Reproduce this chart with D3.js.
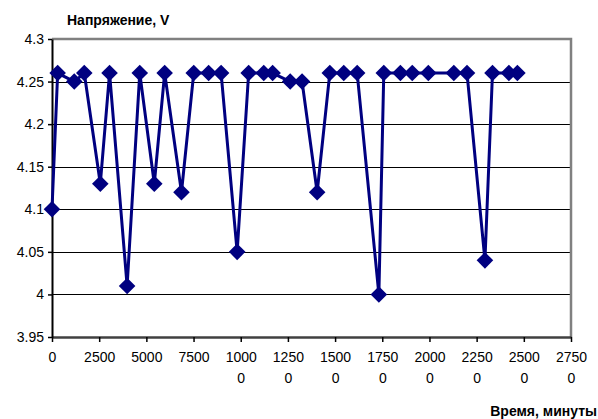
<!DOCTYPE html>
<html>
<head>
<meta charset="utf-8">
<script src="https://cdn.jsdelivr.net/npm/d3@7"></script>
<style>
  body { margin: 0; background: #fff; }
  svg { display: block; font-family: "Liberation Sans", Arial, sans-serif; }
</style>
</head>
<body>
<svg id="chart" width="598" height="419"></svg>
<script>
const minutes = [0, 300, 1180, 1710, 2560, 3050, 3980, 4650, 5420, 5970, 6860, 7510, 8300, 8960,
    9810, 10420, 11220, 11690, 12620, 13250, 14050, 14720, 15460, 16170, 17320, 17580,
    18460, 19090, 19940, 21290, 21990, 22940, 23340, 24210, 24660];
const voltage = [4.10, 4.26, 4.25, 4.26, 4.13, 4.26, 4.01, 4.26, 4.13, 4.26, 4.12, 4.26, 4.26, 4.26,
    4.05, 4.26, 4.26, 4.26, 4.25, 4.25, 4.12, 4.26, 4.26, 4.26, 4.00, 4.26,
    4.26, 4.26, 4.26, 4.26, 4.26, 4.04, 4.26, 4.26, 4.26];
const xTicks = d3.range(0, 27501, 2500);
const yTicks = [3.95, 4.0, 4.05, 4.1, 4.15, 4.2, 4.25, 4.3];

const data = minutes.map((m, i) => ({ x: m, y: voltage[i] }));

const margin = { top: 39, right: 27, bottom: 82, left: 52 };
const svg = d3.select("#chart");
const width = +svg.attr("width") - margin.left - margin.right;
const height = +svg.attr("height") - margin.top - margin.bottom;

const chartArea = svg.append("g")
    .attr("transform", `translate(${margin.left},${margin.top})`);

const xScale = d3.scaleLinear().domain([0, 27500]).range([0, width]);
const yScale = d3.scaleLinear().domain([3.95, 4.3]).range([height, 0]);

// gridlines
chartArea.append("g")
    .selectAll("line")
    .data(yTicks.slice(1, -1))
    .join("line")
    .attr("x1", 0)
    .attr("x2", width)
    .attr("y1", d => Math.round(yScale(d)) + 0.5)
    .attr("y2", d => Math.round(yScale(d)) + 0.5)
    .attr("stroke", "#000")
    .attr("stroke-width", 1);

// plot border (top/right)
chartArea.append("path")
    .attr("d", `M0,0H${width}V${height}`)
    .attr("fill", "none")
    .attr("stroke", "#808080")
    .attr("stroke-width", 2.5);

const xAxis = d3.axisBottom(xScale)
    .tickValues(xTicks)
    .tickSize(5)
    .tickSizeOuter(0)
    .tickPadding(10)
    .tickFormat(d3.format("d"));
const yAxis = d3.axisLeft(yScale)
    .tickValues(yTicks)
    .tickSize(4)
    .tickSizeOuter(0)
    .tickPadding(4)
    .tickFormat(d => d3.format("")(+d.toFixed(2)));

const xAxisG = chartArea.append("g")
    .attr("transform", `translate(0,${height})`)
    .call(xAxis);
const yAxisG = chartArea.append("g").call(yAxis);

xAxisG.select(".domain").attr("stroke", "#404040").attr("stroke-width", 2.5);
xAxisG.selectAll(".tick line").attr("stroke", "#000").attr("stroke-width", 1.5);
yAxisG.select(".domain").attr("stroke", "#000").attr("stroke-width", 2);
yAxisG.selectAll(".tick line").attr("stroke", "#000").attr("stroke-width", 1.5);

chartArea.selectAll(".tick text")
    .attr("fill", "#000")
    .attr("font-size", 14)
    .attr("font-family", "Liberation Sans, Arial, sans-serif");

// wrap 5-digit labels like Excel does
xAxisG.selectAll(".tick text").each(function(d) {
    const s = String(d);
    if (s.length > 4) {
        const t = d3.select(this).text(null);
        t.append("tspan").attr("x", 0).text(s.slice(0, 4));
        t.append("tspan").attr("x", 0).attr("dy", "1.48em").text(s.slice(4));
    }
});

const line = d3.line().x(d => xScale(d.x)).y(d => yScale(d.y));

chartArea.append("path")
    .datum(data)
    .attr("d", line)
    .attr("fill", "none")
    .attr("stroke", "#000080")
    .attr("stroke-width", 3)
    .attr("stroke-linejoin", "round");

const diamond = d3.symbol().type(d3.symbolDiamond2).size(175);
chartArea.selectAll(".point")
    .data(data)
    .join("path")
    .attr("class", "point")
    .attr("transform", d => `translate(${xScale(d.x)},${yScale(d.y)})`)
    .attr("d", diamond)
    .attr("fill", "#000080");

svg.append("text")
    .attr("x", 67)
    .attr("y", 25)
    .attr("font-size", 14)
    .attr("font-weight", "bold")
    .text("Напряжение, V");

svg.append("text")
    .attr("x", 597)
    .attr("y", 416)
    .attr("text-anchor", "end")
    .attr("font-size", 14)
    .attr("font-weight", "bold")
    .text("Время, минуты");
</script>
</body>
</html>
